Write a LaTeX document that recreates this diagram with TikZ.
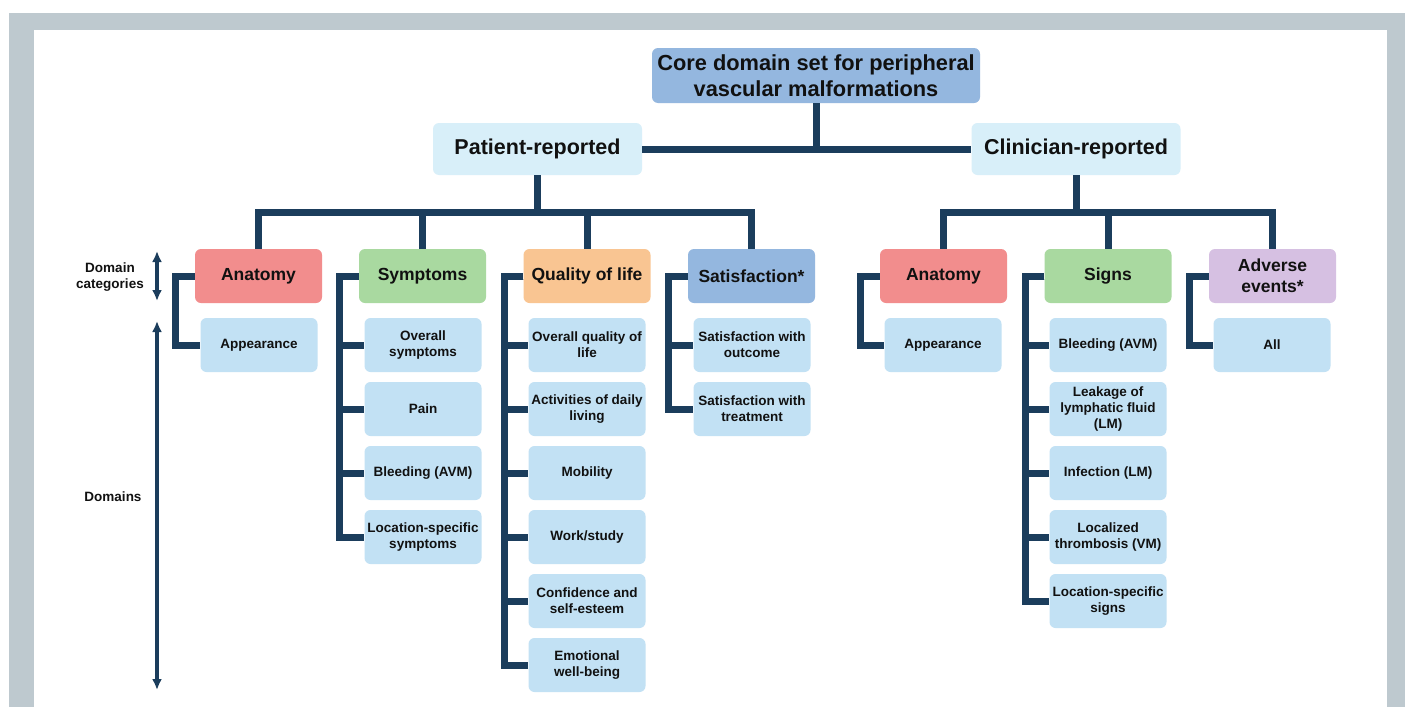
\documentclass[tikz,border=0pt]{standalone}
\usepackage{fontspec}
\setmainfont{Liberation Sans}
\usetikzlibrary{arrows.meta}
\definecolor{navy}{HTML}{1B3D5C}
\definecolor{framegray}{HTML}{BEC9CF}
\definecolor{txt}{HTML}{111111}
\definecolor{topbg}{HTML}{94B7DF}
\definecolor{repbg}{HTML}{D8EFF9}
\definecolor{dombg}{HTML}{C2E1F4}
\definecolor{redbg}{HTML}{F28D8D}
\definecolor{greenbg}{HTML}{A9D9A0}
\definecolor{orangebg}{HTML}{F9C592}
\definecolor{purplebg}{HTML}{D6C0E2}
\tikzset{
  box/.style={rounded corners=6pt, inner sep=0pt, align=center, text=txt},
  dom/.style={box, fill=dombg, minimum width=117pt, minimum height=54pt,
    font=\bfseries\fontsize{13.5}{16}\selectfont},
  cat/.style={box, minimum width=127pt, minimum height=54pt,
    font=\bfseries\fontsize{17.5}{21}\selectfont},
  rep/.style={box, fill=repbg, minimum width=209pt, minimum height=52pt,
    font=\bfseries\fontsize{21.5}{26}\selectfont},
  conn/.style={draw=navy, line width=7pt, line join=miter},
  axis/.style={draw=navy, line width=3.5pt},
  lab/.style={align=center, text=txt, font=\bfseries\fontsize{13.5}{16}\selectfont}
}
\begin{document}
\begin{tikzpicture}[x=1pt,y=-1pt]
\useasboundingbox (0,0) rectangle (1410,707);
\fill[white] (0,0) rectangle (1410,707);
\fill[framegray] (9,13) rectangle (1405,707);
\fill[white] (34,30) rectangle (1387,707);

% top level
\node[box, fill=topbg, minimum width=328pt, minimum height=55pt,
  font=\bfseries\fontsize{21.8}{26}\selectfont] (core) at (816,75.5)
  {Core domain set for peripheral\\vascular malformations};
\node[rep] (pr) at (537.5,149) {Patient-reported};
\node[rep] (cr) at (1076,149) {Clinician-reported};

% categories
\node[cat, fill=redbg] (anatP) at (258.5,276) {Anatomy};
\node[cat, fill=greenbg] (symP) at (422.5,276) {Symptoms};
\node[cat, fill=orangebg] (qolP) at (587,276) {Quality of life};
\node[cat, fill=topbg] (satP) at (751.5,276) {Satisfaction*};
\node[cat, fill=redbg] (anatC) at (943.5,276) {Anatomy};
\node[cat, fill=greenbg] (sigC) at (1108,276) {Signs};
\node[cat, fill=purplebg] (advC) at (1272.5,276) {Adverse\\events*};

% domains
\node[dom] (appP) at (259,345) {Appearance};

\node[dom] (sym1) at (423,345) {Overall\\symptoms};
\node[dom] (sym2) at (423,409) {Pain};
\node[dom] (sym3) at (423,473) {Bleeding (AVM)};
\node[dom] (sym4) at (423,537) {Location-specific\\symptoms};

\node[dom] (qol1) at (587,345) {Overall quality of\\life};
\node[dom] (qol2) at (587,409) {Activities of daily\\living};
\node[dom] (qol3) at (587,473) {Mobility};
\node[dom] (qol4) at (587,537) {Work/study};
\node[dom] (qol5) at (587,601) {Confidence and\\self-esteem};
\node[dom] (qol6) at (587,665) {Emotional\\well-being};

\node[dom] (sat1) at (752,345) {Satisfaction with\\outcome};
\node[dom] (sat2) at (752,409) {Satisfaction with\\treatment};

\node[dom] (appC) at (943,345) {Appearance};

\node[dom] (sig1) at (1108,345) {Bleeding (AVM)};
\node[dom] (sig2) at (1108,409) {Leakage of\\lymphatic fluid\\(LM)};
\node[dom] (sig3) at (1108,473) {Infection (LM)};
\node[dom] (sig4) at (1108,537) {Localized\\thrombosis (VM)};
\node[dom] (sig5) at (1108,601) {Location-specific\\signs};

\node[dom] (all) at (1272,345) {All};

% connectors top
\draw[conn] (core.south) -- (core.south |- pr.east);
\draw[conn] (pr.east) -- (cr.west);
\coordinate (pbar) at (537.5,212);
\coordinate (cbar) at (1076,212);
\draw[conn] (pr.south) -- (pbar);
\draw[conn] (cr.south) -- (cbar);
\draw[conn] (anatP.north) -- (anatP.north |- pbar) -- (satP.north |- pbar) -- (satP.north);
\draw[conn] (symP.north) -- (symP.north |- pbar);
\draw[conn] (qolP.north) -- (qolP.north |- pbar);
\draw[conn] (anatC.north) -- (anatC.north |- cbar) -- (advC.north |- cbar) -- (advC.north);
\draw[conn] (sigC.north) -- (sigC.north |- cbar);

% brackets
\foreach \c/\d in {anatP/appP, symP/sym1, symP/sym2, symP/sym3, symP/sym4,
  qolP/qol1, qolP/qol2, qolP/qol3, qolP/qol4, qolP/qol5, qolP/qol6,
  satP/sat1, satP/sat2, anatC/appC,
  sigC/sig1, sigC/sig2, sigC/sig3, sigC/sig4, sigC/sig5, advC/all}
  \draw[conn] (\c.west) -- ++(-19,0) |- (\d.west);

% left axis
\node[lab] (dclab) at (110,277) {Domain\\categories};
\node[lab] (dlab) at (113,497) {Domains};
\coordinate (dcTop) at (157,251);
\coordinate (dcBot) at (157,301);
\coordinate (dTop) at (157,321);
\coordinate (dBot) at (157,690);
\draw[axis, {Latex[length=11pt,width=10pt]}-{Latex[length=11pt,width=10pt]}] (dcTop) -- (dcBot);
\draw[axis, {Latex[length=11pt,width=10pt]}-{Latex[length=11pt,width=10pt]}] (dTop) -- (dBot);
\end{tikzpicture}
\end{document}
